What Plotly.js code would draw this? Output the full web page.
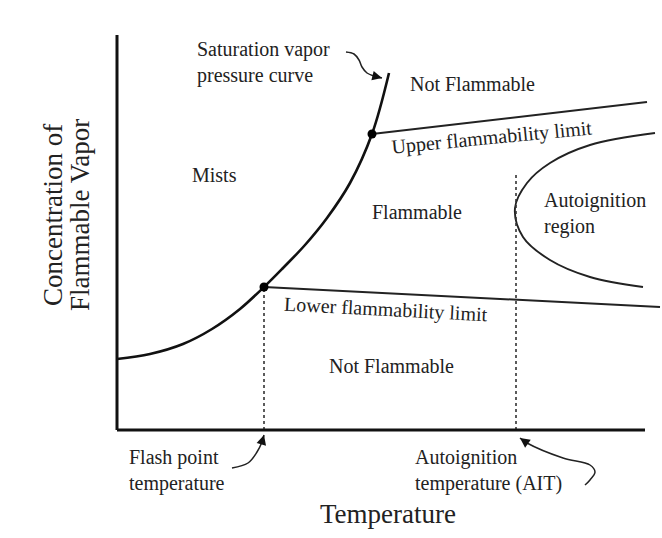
<!DOCTYPE html>
<html>
<head>
<meta charset="utf-8">
<script src="https://cdn.plot.ly/plotly-3.0.1.min.js"></script>
<style>html,body{margin:0;padding:0;background:#fff;}#chart{width:662px;height:538px;}</style>
</head>
<body>
<div id="chart"></div>
<script>
// Conceptual diagram values (arbitrary units: temperature on x, concentration on y)
const satTemp = [0, 33, 66, 95, 123, 147, 166, 188, 210, 233, 255, 272];
const satConc = [71, 76, 86, 101, 121, 143, 162, 185, 212, 247, 296, 357];
const uflTemp = [255, 530];
const uflConc = [296, 328];
const lflTemp = [147, 543];
const lflConc = [143, 123];
const autoTemp = [538, 473, 433, 410, 398, 406, 433, 473, 526];
const autoConc = [297, 285, 267, 247, 222, 193, 170, 153, 143];
const flashPoint = [147, 143];
const upperPoint = [255, 296];
const aitTemp = 399;
const aitTop = 258;
const axisMax = [528, 395];
const satArrowT = [229, 237, 242, 245, 250, 257, 265];
const satArrowC = [378, 376, 370, 363, 357, 354, 352];
const flashArrowT = [115, 131, 140, 145, 147];
const flashArrowC = [-38, -33, -22, -12, -5];
const aitArrowT = [468, 473, 478, 473, 446, 410, 403];
const aitArrowC = [-55, -50, -42, -35, -28, -13, -8];

const serif = "Liberation Serif, Times New Roman, serif";
const txt = "#222";
const lab = 20;

const traces = [
  {x: satTemp, y: satConc, mode: 'lines', line: {color: '#111', width: 2.6, shape: 'spline', smoothing: 1}},
  {x: uflTemp, y: uflConc, mode: 'lines', line: {color: '#222', width: 1.9}},
  {x: lflTemp, y: lflConc, mode: 'lines', line: {color: '#222', width: 1.9}},
  {x: autoTemp, y: autoConc, mode: 'lines', line: {color: '#222', width: 1.9, shape: 'spline'}},
  {x: [flashPoint[0], flashPoint[0]], y: [0, flashPoint[1]], mode: 'lines', line: {color: '#333', width: 1.6, dash: 'dot'}},
  {x: [aitTemp, aitTemp], y: [0, aitTop], mode: 'lines', line: {color: '#333', width: 1.6, dash: 'dot'}},
  {x: [flashPoint[0], upperPoint[0]], y: [flashPoint[1], upperPoint[1]], mode: 'markers', marker: {color: '#000', size: 9}},
  {x: satArrowT, y: satArrowC, mode: 'lines', line: {color: '#222', width: 1.5, shape: 'spline'}},
  {x: flashArrowT, y: flashArrowC, mode: 'lines', line: {color: '#222', width: 1.5, shape: 'spline'}},
  {x: aitArrowT, y: aitArrowC, mode: 'lines', line: {color: '#222', width: 1.5, shape: 'spline'}}
];

function arrowHead(t, c) {
  const n = t.length;
  return {x: t[n-1], y: c[n-1], ax: t[n-2], ay: c[n-2], axref: 'x', ayref: 'y', xref: 'x', yref: 'y',
          text: '', showarrow: true, arrowhead: 2, arrowsize: 1.3, arrowwidth: 1.5, arrowcolor: '#111'};
}

function label(x, y, text, opts) {
  return Object.assign({x: x, y: y, xref: 'x', yref: 'y', text: text, showarrow: false,
    font: {family: serif, size: lab, color: txt}}, opts || {});
}

const titleFont = {family: serif, size: 27, color: txt};

const annotations = [
  arrowHead(satArrowT, satArrowC),
  arrowHead(flashArrowT, flashArrowC),
  arrowHead(aitArrowT, aitArrowC),
  label(78, 368, 'Saturation vapor<br>pressure curve', {xanchor: 'left', align: 'left'}),
  label(355, 346, 'Not Flammable'),
  label(375, 293, 'Upper flammability limit', {textangle: -5.5}),
  label(97, 255, 'Mists'),
  label(300, 218, 'Flammable'),
  label(425, 217, 'Autoignition<br>region', {xanchor: 'left', align: 'left'}),
  label(269, 121, 'Lower flammability limit', {textangle: 3}),
  label(274, 64, 'Not Flammable'),
  label(10, -40, 'Flash point<br>temperature', {xanchor: 'left', align: 'left'}),
  label(296, -40, 'Autoignition<br>temperature (AIT)', {xanchor: 'left', align: 'left'}),
  label(271, -84, 'Temperature', {font: titleFont}),
  label(-64, 215, 'Concentration of', {textangle: -90, font: titleFont}),
  label(-37, 215, 'Flammable Vapor', {textangle: -90, font: titleFont})
];

const shapes = [
  {type: 'line', xref: 'x', yref: 'y', x0: 0, y0: 0, x1: axisMax[0], y1: 0, line: {color: '#111', width: 3}},
  {type: 'line', xref: 'x', yref: 'y', x0: 0, y0: 0, x1: 0, y1: axisMax[1], line: {color: '#111', width: 3}}
];

const layout = {
  width: 662, height: 538,
  margin: {l: 0, r: 0, t: 0, b: 0},
  paper_bgcolor: '#fff', plot_bgcolor: '#fff',
  showlegend: false,
  xaxis: {range: [-117, 545], visible: false},
  yaxis: {range: [-108, 430], visible: false},
  annotations: annotations,
  shapes: shapes
};

Plotly.newPlot('chart', traces, layout, {staticPlot: true, displayModeBar: false});
</script>
</body>
</html>
